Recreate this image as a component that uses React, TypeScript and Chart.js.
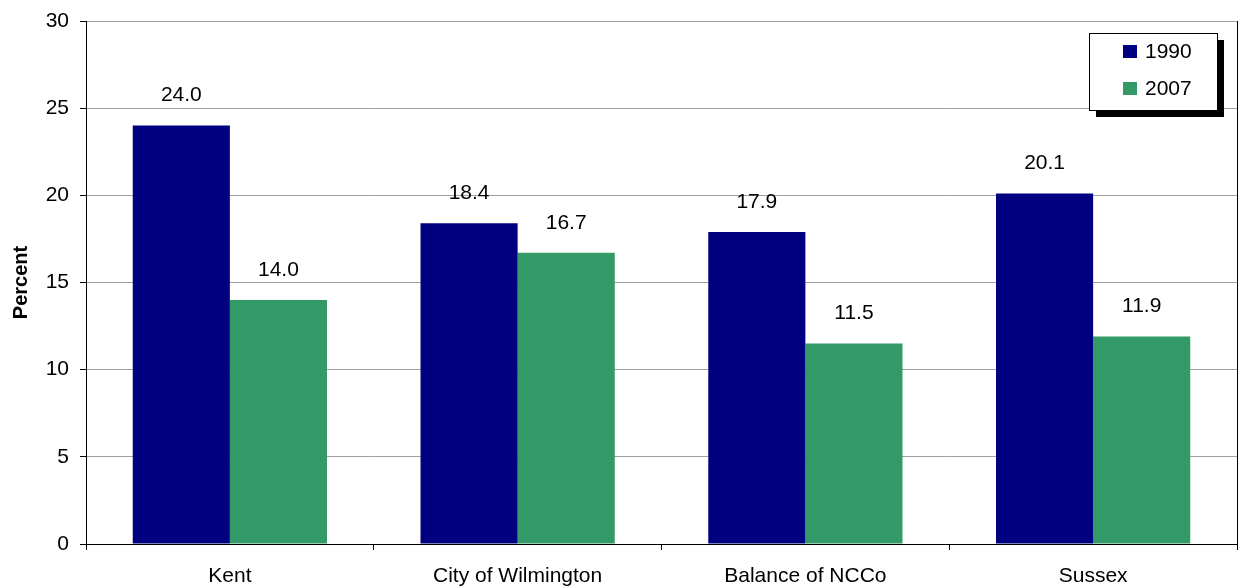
import React, { useEffect, useRef } from "react";
import { Chart, registerables } from "chart.js";

Chart.register(...registerables);

const categories = ["Kent", "City of Wilmington", "Balance of NCCo", "Sussex"];
const series1990 = [24.0, 18.4, 17.9, 20.1];
const series2007 = [14.0, 16.7, 11.5, 11.9];
const seriesNames = ["1990", "2007"];
const colors = ["#000080", "#339966"];
const yTitle = "Percent";

const FONT = "'Liberation Sans', Arial, sans-serif";

const overlayPlugin = {
  id: "overlay",
  afterDatasetsDraw(chart: any) {
    const ctx = chart.ctx;
    const area = chart.chartArea;
    ctx.save();
    // right border
    ctx.strokeStyle = "#000";
    ctx.lineWidth = 1;
    ctx.beginPath();
    ctx.moveTo(Math.round(area.right) + 0.5, area.top);
    ctx.lineTo(Math.round(area.right) + 0.5, area.bottom);
    ctx.stroke();
    // data labels
    ctx.fillStyle = "#000";
    ctx.font = `21px ${FONT}`;
    ctx.textAlign = "center";
    ctx.textBaseline = "middle";
    chart.data.datasets.forEach((ds: any, i: number) => {
      const meta = chart.getDatasetMeta(i);
      meta.data.forEach((bar: any, j: number) => {
        ctx.fillText(Number(ds.data[j]).toFixed(1), bar.x, bar.y - 30);
      });
    });
    // y title
    ctx.save();
    ctx.font = `bold 20px ${FONT}`;
    ctx.translate(21, (area.top + area.bottom) / 2);
    ctx.rotate(-Math.PI / 2);
    ctx.fillText(yTitle, 0, 0);
    ctx.restore();
    // legend
    const lx = 1089, ly = 33, lw = 128, lh = 77;
    ctx.fillStyle = "#000";
    ctx.fillRect(lx + 7, ly + 7, lw, lh);
    ctx.fillStyle = "#fff";
    ctx.fillRect(lx, ly, lw, lh);
    ctx.strokeStyle = "#000";
    ctx.strokeRect(lx + 0.5, ly + 0.5, lw, lh);
    ctx.font = `21px ${FONT}`;
    ctx.textAlign = "left";
    seriesNames.forEach((name, i) => {
      const cy = ly + 19 + i * 37;
      ctx.fillStyle = colors[i];
      ctx.fillRect(1123, cy - 7, 14, 13);
      ctx.fillStyle = "#000";
      ctx.fillText(name, 1145, cy);
    });
    ctx.restore();
  },
};

export default function App() {
  const ref = useRef<HTMLCanvasElement>(null);
  useEffect(() => {
    if (!ref.current) return;
    const chart = new Chart(ref.current, {
      type: "bar",
      data: {
        labels: categories,
        datasets: [
          { label: seriesNames[0], data: series1990, backgroundColor: colors[0], borderWidth: 0, barPercentage: 1, categoryPercentage: 0.675 },
          { label: seriesNames[1], data: series2007, backgroundColor: colors[1], borderWidth: 0, barPercentage: 1, categoryPercentage: 0.675 },
        ],
      },
      options: {
        animation: false,
        responsive: false,
        maintainAspectRatio: false,
        layout: { padding: { top: 21, right: 3, left: 0, bottom: 0 } },
        plugins: { legend: { display: false }, tooltip: { enabled: false } },
        scales: {
          x: {
            grid: { offset: true, drawOnChartArea: false, drawTicks: true, tickLength: 6, tickColor: "#000" },
            border: { color: "#000" },
            ticks: { color: "#000", font: { family: FONT, size: 21 }, padding: 14 },
            afterFit: (s: any) => { s.height = 44; s.paddingLeft = 0; s.paddingRight = 0; },
          },
          y: {
            min: 0,
            max: 30,
            ticks: { stepSize: 5, color: "#000", font: { family: FONT, size: 21 }, padding: 11 },
            grid: {
              color: (c: any) => (c.tick && c.tick.value === 0 ? "rgba(0,0,0,0)" : "#a0a0a0"),
              tickColor: "#000",
              tickLength: 6,
            },
            border: { color: "#000" },
            afterFit: (s: any) => { s.width = 86; s.paddingTop = 0; s.paddingBottom = 0; },
          },
        },
      },
      plugins: [overlayPlugin],
    });
    return () => chart.destroy();
  }, []);
  return (
    <div style={{ position: "fixed", left: 0, top: 0, width: 1240, height: 588, background: "#fff" }}>
      <canvas ref={ref} width={1240} height={588} style={{ width: 1240, height: 588 }} />
    </div>
  );
}
